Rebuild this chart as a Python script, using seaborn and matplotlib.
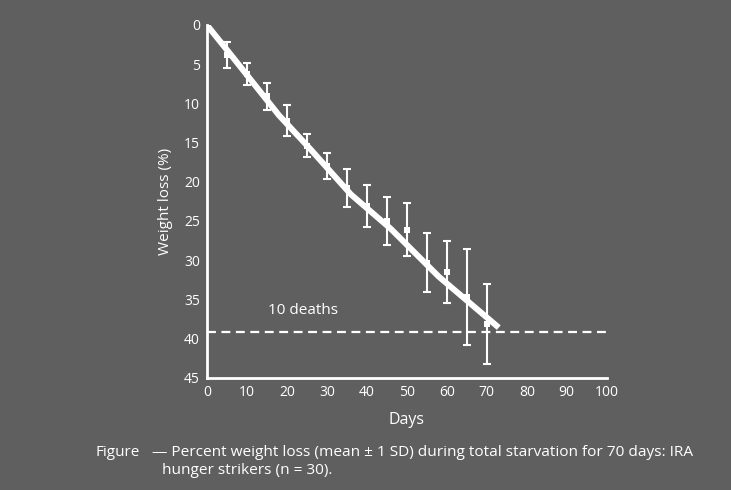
import matplotlib
matplotlib.use("Agg")
import matplotlib.pyplot as plt
import seaborn as sns
import pandas as pd

# ---- data ----
days = [5, 10, 15, 20, 25, 30, 35, 40, 45, 50, 55, 60, 65, 70]
mean_loss = [3.8, 6.2, 9.1, 12.2, 15.4, 18.0, 20.8, 23.1, 25.0, 26.1, 30.3, 31.5, 34.7, 38.2]
sd_loss = [1.65, 1.4, 1.7, 2.0, 1.5, 1.7, 2.4, 2.7, 3.1, 3.4, 3.75, 3.9, 6.1, 5.1]

trend_days = [0, 6, 18, 26, 36, 46, 58, 73]
trend_loss = [0, 3.8, 11.5, 15.9, 21.6, 26.0, 32.1, 38.6]

deaths_level = 39.2
x_ticks = [0, 10, 20, 30, 40, 50, 60, 70, 80, 90, 100]
y_ticks = [0, 5, 10, 15, 20, 25, 30, 35, 40, 45]

bg = "#5f5f5f"
fg = "white"

sns.set_theme(style="white")
plt.rcParams["font.family"] = ["Open Sans", "DejaVu Sans"]

fig = plt.figure(figsize=(7.31, 4.90), dpi=100, facecolor=bg)
ax = fig.add_axes([0.283, 0.229, 0.547, 0.72])
ax.set_facecolor(bg)

df_means = pd.DataFrame({"day": days, "loss": mean_loss, "sd": sd_loss})
df_trend = pd.DataFrame({"day": trend_days, "loss": trend_loss})

# dashed "10 deaths" level
ax.axhline(deaths_level, color=fg, lw=1.6, ls=(0, (4, 2.5)), zorder=2)

# error bars (mean +/- 1 SD)
ax.errorbar(df_means["day"], df_means["loss"], yerr=df_means["sd"], fmt="none",
            ecolor=fg, elinewidth=1.5, capsize=3.0, capthick=1.5, zorder=3)

# thick trend line
sns.lineplot(data=df_trend, x="day", y="loss", ax=ax, color=fg, lw=4.3,
             solid_capstyle="butt", zorder=4)

# mean markers
sns.scatterplot(data=df_means, x="day", y="loss", ax=ax, color=fg, marker="s",
                s=14, edgecolor=fg, linewidth=0, zorder=5)

ax.set_xlim(0, 100)
ax.set_ylim(45, 0)
ax.set_xticks(x_ticks)
ax.set_yticks(y_ticks)
ax.tick_params(axis="both", colors=fg, labelcolor=fg, labelsize=10,
               length=3.5, width=1.4, direction="out", pad=1.5)
ax.tick_params(axis="x", pad=2)
for side in ("top", "right"):
    ax.spines[side].set_visible(False)
for side in ("left", "bottom"):
    ax.spines[side].set_color(fg)
    ax.spines[side].set_linewidth(2.0)

ax.set_xlabel("Days", color=fg, fontsize=11.5, labelpad=8)
ax.set_ylabel("Weight loss (%)", color=fg, fontsize=11, labelpad=8)

ax.text(15.3, 36.4, "10 deaths", color=fg, fontsize=11, va="center", ha="left")

fig.text(95 / 731, 1 - 452 / 490, "Figure", color=fg, fontsize=11, va="center", ha="left")
fig.text(152 / 731, 1 - 452 / 490,
         "\u2014 Percent weight loss (mean \u00b1 1 SD) during total starvation for 70 days: IRA",
         color=fg, fontsize=11.1, va="center", ha="left")
fig.text(162 / 731, 1 - 470 / 490, "hunger strikers (n = 30).",
         color=fg, fontsize=11.1, va="center", ha="left")

fig.savefig("out.png", dpi=100, facecolor=bg)
